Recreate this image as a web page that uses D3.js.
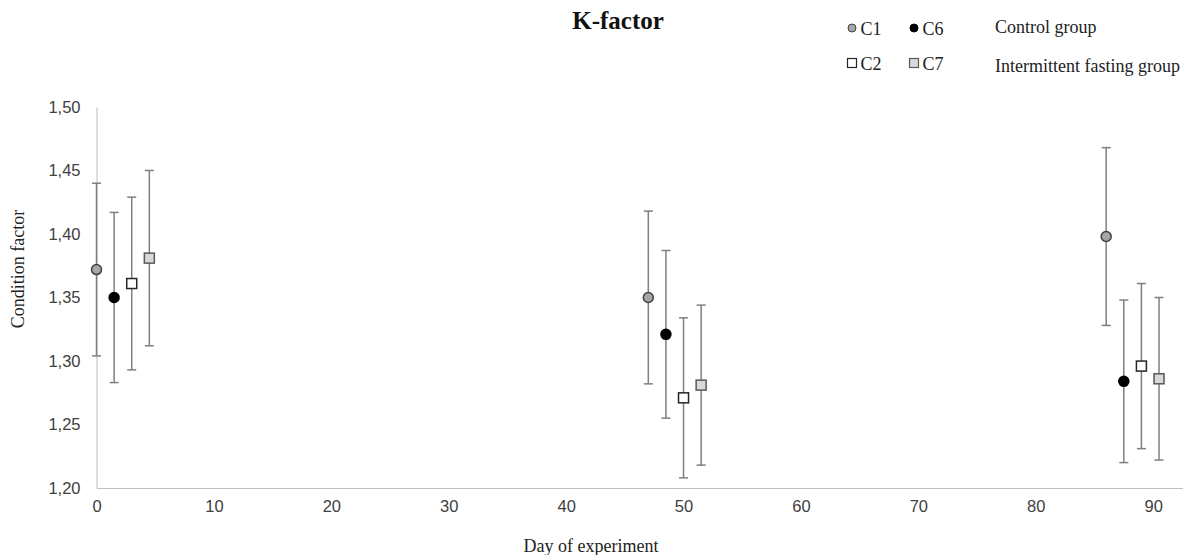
<!DOCTYPE html>
<html>
<head>
<meta charset="utf-8">
<script src="https://cdn.jsdelivr.net/npm/d3@7"></script>
<style>
  html, body { margin: 0; padding: 0; background: #fff; }
  svg { display: block; }
</style>
</head>
<body>
<svg id="chart" width="1199" height="555"></svg>
<script>
// ---- data ----
const seriesNames = ["C1", "C6", "C2", "C7"];
const daysC1 = [0, 47, 86];
const daysC6 = [1.5, 48.5, 87.5];
const daysC2 = [3, 50, 89];
const daysC7 = [4.5, 51.5, 90.5];
const meanC1 = [1.372, 1.350, 1.398];
const meanC6 = [1.350, 1.321, 1.284];
const meanC2 = [1.361, 1.271, 1.296];
const meanC7 = [1.381, 1.281, 1.286];
const errC1 = [0.068, 0.068, 0.070];
const errC6 = [0.067, 0.066, 0.064];
const errC2 = [0.068, 0.063, 0.065];
const errC7 = [0.069, 0.063, 0.064];
const xTicks = [0, 10, 20, 30, 40, 50, 60, 70, 80, 90];
const yTicks = [1.20, 1.25, 1.30, 1.35, 1.40, 1.45, 1.50];
const groupLabels = ["Control group", "Intermittent fasting group"];

const series = [
  { name: "C1", days: daysC1, mean: meanC1, err: errC1, shape: "circle", fill: "#a6a6a6", stroke: "#404040" },
  { name: "C6", days: daysC6, mean: meanC6, err: errC6, shape: "circle", fill: "#000000", stroke: "#000000" },
  { name: "C2", days: daysC2, mean: meanC2, err: errC2, shape: "square", fill: "#ffffff", stroke: "#262626" },
  { name: "C7", days: daysC7, mean: meanC7, err: errC7, shape: "square", fill: "#d9d9d9", stroke: "#595959" }
];

const svg = d3.select("#chart");
const x = d3.scaleLinear().domain([0, 92.5]).range([96.5, 1182.5]);
const y = d3.scaleLinear().domain([1.20, 1.50]).range([488, 107]);

const serif = "'Liberation Serif', 'Times New Roman', serif";
const sans = "'Liberation Sans', Arial, sans-serif";

// axes
const yAxis = svg.append("g").attr("transform", `translate(${x(0)},0)`)
  .call(d3.axisLeft(y).tickValues(yTicks).tickSize(0).tickPadding(16)
    .tickFormat(d => d3.format(".2f")(d).replace(".", ",")));
yAxis.select(".domain").attr("stroke", "#bfbfbf").attr("stroke-width", 1);
yAxis.selectAll("text").attr("font-family", sans).attr("font-size", 16.5).attr("fill", "#404040");

const xAxis = svg.append("g").attr("transform", `translate(0,${y(1.20)})`)
  .call(d3.axisBottom(x).tickValues(xTicks).tickSize(0).tickPadding(12).tickFormat(d3.format("d")));
xAxis.select(".domain").attr("stroke", "#bfbfbf").attr("stroke-width", 1);
xAxis.selectAll("text").attr("font-family", sans).attr("font-size", 16.5).attr("fill", "#404040");

// axis titles
svg.append("text").attr("x", 591).attr("y", 552).attr("text-anchor", "middle")
  .attr("font-family", serif).attr("font-size", 18).attr("fill", "#222").text("Day of experiment");
svg.append("text").attr("transform", "translate(24,269) rotate(-90)").attr("text-anchor", "middle")
  .attr("font-family", serif).attr("font-size", 18).attr("fill", "#222").text("Condition factor");

// title
svg.append("text").attr("x", 618).attr("y", 29).attr("text-anchor", "middle")
  .attr("font-family", serif).attr("font-size", 25).attr("font-weight", "bold").attr("fill", "#111").text("K-factor");

// error bars + markers
const capW = 9;
series.forEach(s => {
  const g = svg.append("g");
  const pts = s.days.map((d, i) => ({ d, m: s.mean[i], e: s.err[i] }));
  g.selectAll("line.v").data(pts).join("line")
    .attr("x1", p => x(p.d)).attr("x2", p => x(p.d))
    .attr("y1", p => y(p.m + p.e)).attr("y2", p => y(p.m - p.e))
    .attr("stroke", "#7f7f7f").attr("stroke-width", 1.5);
  [1, -1].forEach(sign => {
    g.selectAll(null).data(pts).join("line")
      .attr("x1", p => x(p.d) - capW / 2).attr("x2", p => x(p.d) + capW / 2)
      .attr("y1", p => y(p.m + sign * p.e)).attr("y2", p => y(p.m + sign * p.e))
      .attr("stroke", "#7f7f7f").attr("stroke-width", 1.5);
  });
  if (s.shape === "circle") {
    g.selectAll("circle").data(pts).join("circle")
      .attr("cx", p => x(p.d)).attr("cy", p => y(p.m)).attr("r", 5)
      .attr("fill", s.fill).attr("stroke", s.stroke).attr("stroke-width", 1.5);
  } else {
    g.selectAll("rect").data(pts).join("rect")
      .attr("x", p => x(p.d) - 5).attr("y", p => y(p.m) - 5).attr("width", 10).attr("height", 10)
      .attr("fill", s.fill).attr("stroke", s.stroke).attr("stroke-width", 1.5);
  }
});

// legend
const legPos = { C1: [852, 28], C6: [914, 28], C2: [852, 63], C7: [914, 63] };
series.forEach(s => {
  const [lx, ly] = legPos[s.name];
  if (s.shape === "circle") {
    svg.append("circle").attr("cx", lx).attr("cy", ly).attr("r", 4)
      .attr("fill", s.fill).attr("stroke", s.stroke).attr("stroke-width", 1);
  } else {
    svg.append("rect").attr("x", lx - 4.5).attr("y", ly - 4.5).attr("width", 9).attr("height", 9)
      .attr("fill", s.fill).attr("stroke", s.stroke).attr("stroke-width", 1.2);
  }
  svg.append("text").attr("x", lx + 8.5).attr("y", ly + 6.5)
    .attr("font-family", serif).attr("font-size", 18).attr("fill", "#222").text(s.name);
});
svg.append("text").attr("x", 995).attr("y", 33).attr("font-family", serif).attr("font-size", 18)
  .attr("fill", "#222").text(groupLabels[0]);
svg.append("text").attr("x", 995).attr("y", 72).attr("font-family", serif).attr("font-size", 18)
  .attr("fill", "#222").text(groupLabels[1]);
</script>
</body>
</html>
